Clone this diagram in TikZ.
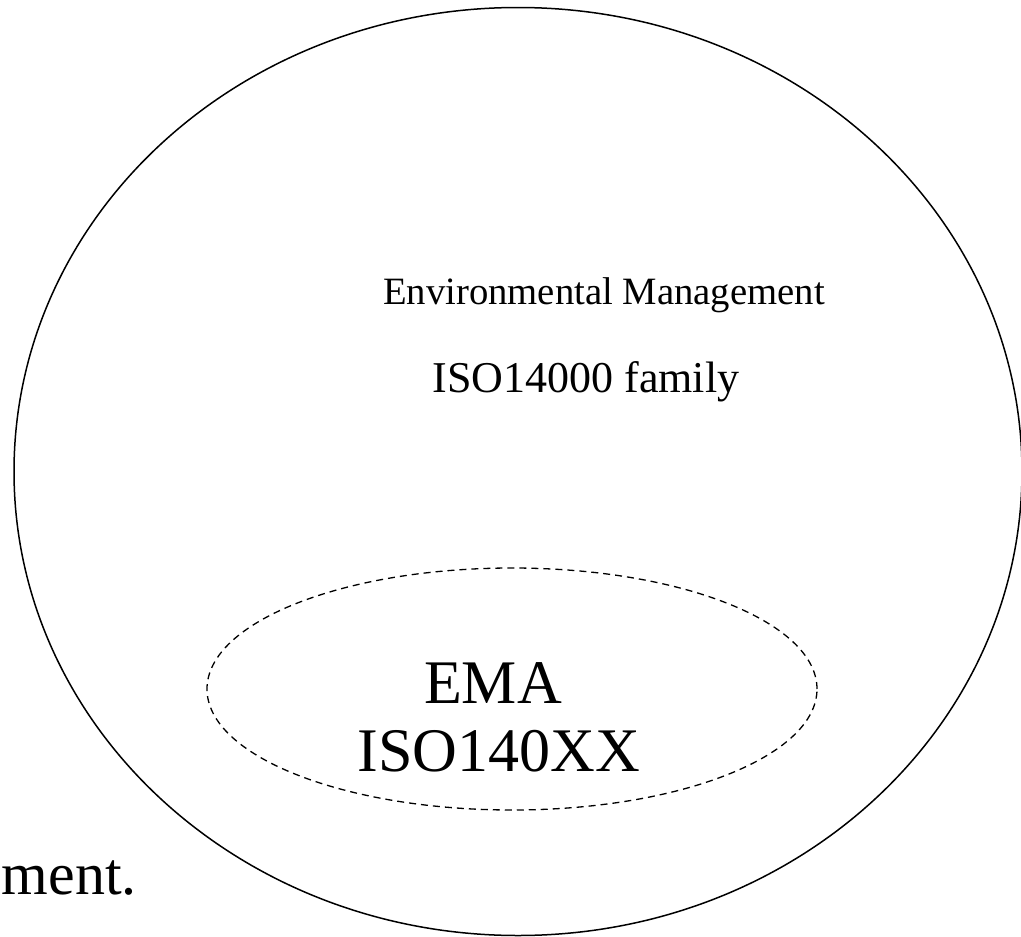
\documentclass[tikz,border=0pt]{standalone}
\usepackage{fontspec}
\setmainfont{Liberation Serif}
\usetikzlibrary{shapes.geometric}
\begin{document}
\begin{tikzpicture}[x=1pt,y=-1pt,
  outer/.style={draw=black,line width=1.5pt,ellipse,minimum width=1008pt,minimum height=928pt,inner sep=0pt},
  inner/.style={draw=black,line width=1.3pt,dash pattern=on 7pt off 5pt,ellipse,minimum width=610pt,minimum height=242pt,inner sep=0pt},
  label/.style={inner sep=0pt,anchor=base,text=black}]
  \useasboundingbox (0,0) rectangle (1021,937);
  % enclosing family and the contained subset
  \node[outer] (family) at (518,471.5) {};
  \node[inner] (ema) at (512,689) {};
  % texts
  \node[label,font=\fontsize{38.7pt}{44pt}\selectfont] (envm) at (604,304) {Environmental Management};
  \node[label,font=\fontsize{44pt}{50pt}\selectfont] (iso) at (586,392) {ISO14000 family};
  \node[label,font=\fontsize{62pt}{70pt}\selectfont] (emat) at (493,703) {EMA};
  \node[label,font=\fontsize{62pt}{70pt}\selectfont] (isoxx) at (499,771) {ISO140XX};
  \node[inner sep=0pt,anchor=base east,font=\fontsize{60pt}{70pt}\selectfont] (ment) at (137,894) {ment.};
\end{tikzpicture}
\end{document}
